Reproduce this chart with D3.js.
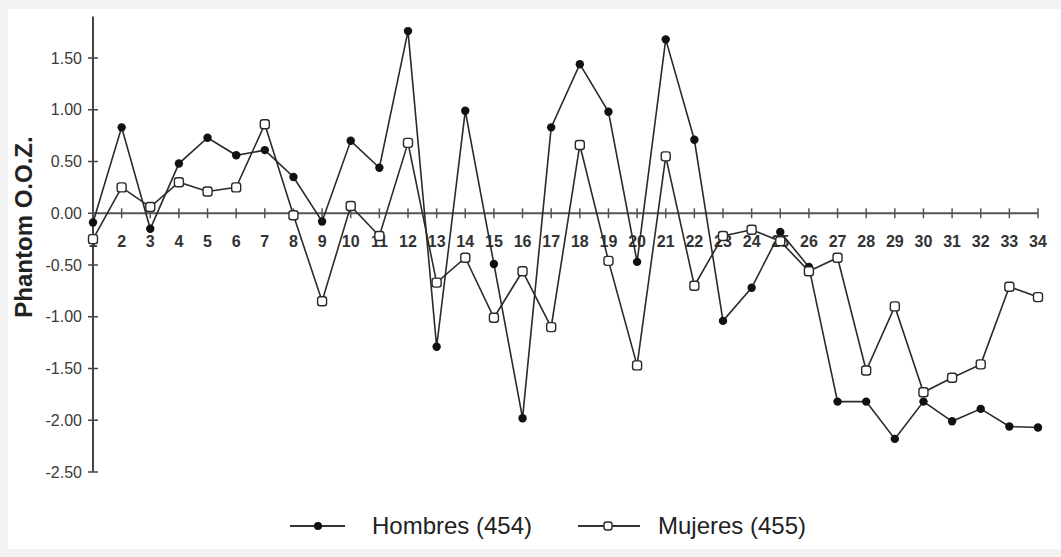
<!DOCTYPE html>
<html>
<head>
  <meta charset="utf-8">
  <title>Phantom O.O.Z.</title>
  <style>
    body {
      margin: 0;
      background-color: #f2f2f2;
      font-family: "Liberation Sans", Arial, sans-serif;
    }
    .tick-label {
      font-size: 16px;
      fill: #3a3a3a;
    }
    .x-label {
      font-size: 16px;
      font-weight: bold;
      fill: #333;
    }
    .axis-title {
      font-size: 24px;
      font-weight: bold;
      fill: #222;
    }
    .legend-text {
      font-size: 24px;
      fill: #222;
    }
  </style>
  <script src="https://d3js.org/d3.v7.min.js"></script>
</head>
<body>
  <div id="chart"></div>
  <script>
    // Categories (numbered items 1..34)
    const items = d3.range(1, 35);

    // Series values
    const hombres = [-0.09, 0.83, -0.15, 0.48, 0.73, 0.56, 0.61, 0.35, -0.08, 0.70,
                     0.44, 1.76, -1.29, 0.99, -0.49, -1.98, 0.83, 1.44, 0.98, -0.47,
                     1.68, 0.71, -1.04, -0.72, -0.18, -0.52, -1.82, -1.82, -2.18, -1.82,
                     -2.01, -1.89, -2.06, -2.07];
    const mujeres = [-0.25, 0.25, 0.06, 0.30, 0.21, 0.25, 0.86, -0.02, -0.85, 0.07,
                     -0.22, 0.68, -0.67, -0.43, -1.01, -0.56, -1.10, 0.66, -0.46, -1.47,
                     0.55, -0.70, -0.22, -0.16, -0.27, -0.56, -0.43, -1.52, -0.90, -1.73,
                     -1.59, -1.46, -0.71, -0.81];

    const yTicks = [1.5, 1.0, 0.5, 0.0, -0.5, -1.0, -1.5, -2.0, -2.5];
    const seriesNames = ["Hombres (454)", "Mujeres (455)"];

    const width = 1061, height = 557;
    const ink = "#2a2a2a";

    const svg = d3.select("#chart")
      .append("svg")
        .attr("width", width)
        .attr("height", height)
        .style("display", "block");

    // page + white panel
    svg.append("rect").attr("width", width).attr("height", height).attr("fill", "#f2f2f2");
    svg.append("rect")
      .attr("x", 8).attr("y", 9)
      .attr("width", width - 8).attr("height", 540)
      .attr("fill", "#ffffff");

    // scales
    const x = d3.scaleLinear().domain([1, 34]).range([93, 1038]);
    const y = d3.scaleLinear().domain([-2.5, 1.5]).range([472, 58]);

    // y axis line + ticks
    svg.append("line")
      .attr("x1", x(1)).attr("x2", x(1))
      .attr("y1", y(1.9)).attr("y2", y(-2.5))
      .attr("stroke", "#444").attr("stroke-width", 2);

    svg.selectAll(".ytick")
      .data(yTicks)
      .enter().append("line")
        .attr("x1", x(1) - 5).attr("x2", x(1) + 5)
        .attr("y1", d => y(d)).attr("y2", d => y(d))
        .attr("stroke", "#444").attr("stroke-width", 1.5);

    svg.selectAll(".ylab")
      .data(yTicks)
      .enter().append("text")
        .attr("class", "tick-label")
        .attr("x", 82)
        .attr("y", d => y(d))
        .attr("dy", "0.35em")
        .attr("text-anchor", "end")
        .text(d => d3.format(".2f")(d).replace("−", "-"));

    // zero line with ticks
    svg.append("line")
      .attr("x1", x(1)).attr("x2", x(34))
      .attr("y1", y(0)).attr("y2", y(0))
      .attr("stroke", "#555").attr("stroke-width", 2);

    svg.selectAll(".xtick")
      .data(items)
      .enter().append("line")
        .attr("x1", d => x(d)).attr("x2", d => x(d))
        .attr("y1", y(0) - 5).attr("y2", y(0) + 5)
        .attr("stroke", "#555").attr("stroke-width", 1.5);

    svg.selectAll(".xlab")
      .data(items)
      .enter().append("text")
        .attr("class", "x-label")
        .attr("x", d => x(d))
        .attr("y", y(0) + 34)
        .attr("text-anchor", "middle")
        .text(d => d);

    // y axis title
    svg.append("text")
      .attr("class", "axis-title")
      .attr("transform", "translate(32,227) rotate(-90)")
      .attr("text-anchor", "middle")
      .text("Phantom O.O.Z.");

    // lines
    const line = d3.line()
      .x((d, i) => x(items[i]))
      .y(d => y(d));

    svg.append("path")
      .datum(hombres)
      .attr("fill", "none")
      .attr("stroke", ink)
      .attr("stroke-width", 1.6)
      .attr("d", line);

    svg.append("path")
      .datum(mujeres)
      .attr("fill", "none")
      .attr("stroke", ink)
      .attr("stroke-width", 1.6)
      .attr("d", line);

    // markers
    svg.selectAll(".m-h")
      .data(hombres)
      .enter().append("circle")
        .attr("cx", (d, i) => x(items[i]))
        .attr("cy", d => y(d))
        .attr("r", 4.2)
        .attr("fill", "#111");

    svg.selectAll(".m-m")
      .data(mujeres)
      .enter().append("rect")
        .attr("x", (d, i) => x(items[i]) - 4.5)
        .attr("y", d => y(d) - 4.5)
        .attr("width", 9).attr("height", 9)
        .attr("rx", 2.5)
        .attr("fill", "#fff")
        .attr("stroke", ink)
        .attr("stroke-width", 1.4);

    // legend
    const legendY = 526;
    const legendItems = [
      {name: seriesNames[0], x1: 290, x2: 345, mx: 318, text: 372, filled: true},
      {name: seriesNames[1], x1: 578, x2: 640, mx: 608, text: 658, filled: false}
    ];

    const legend = svg.selectAll(".legend")
      .data(legendItems)
      .enter().append("g")
        .attr("class", "legend");

    legend.append("line")
      .attr("x1", d => d.x1).attr("x2", d => d.x2)
      .attr("y1", legendY).attr("y2", legendY)
      .attr("stroke", "#333").attr("stroke-width", 2);

    legend.each(function(d) {
      const g = d3.select(this);
      if (d.filled) {
        g.append("circle")
          .attr("cx", d.mx).attr("cy", legendY).attr("r", 4)
          .attr("fill", "#111");
      } else {
        g.append("rect")
          .attr("x", d.mx - 4).attr("y", legendY - 4)
          .attr("width", 8).attr("height", 8).attr("rx", 2.5)
          .attr("fill", "#fff").attr("stroke", ink).attr("stroke-width", 1.4);
      }
    });

    legend.append("text")
      .attr("class", "legend-text")
      .attr("x", d => d.text)
      .attr("y", legendY)
      .attr("dy", "0.35em")
      .text(d => d.name);
  </script>
</body>
</html>
